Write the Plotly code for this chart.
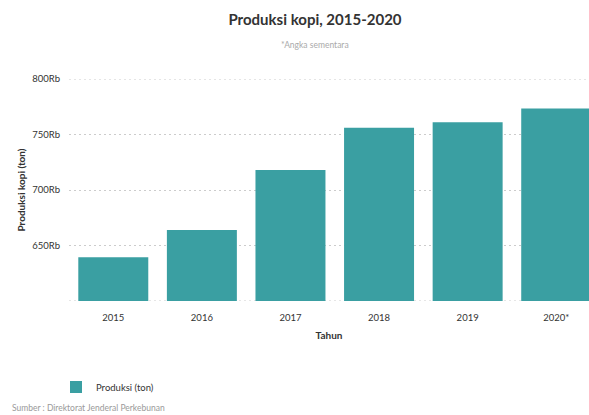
import plotly.graph_objects as go

years = ["2015", "2016", "2017", "2018", "2019", "2020*"]
production = [639305, 663871, 717962, 756051, 760963, 773409]
y_tick_vals = [600000, 650000, 700000, 750000, 800000]
y_tick_text = ["", "650Rb", "700Rb", "750Rb", "800Rb"]

TEAL = "#3a9fa2"
FONT = "Lato"
GRID = "#cccccc"

fig = go.Figure()
fig.add_trace(go.Bar(
    x=years, y=production, name="Produksi (ton)",
    marker=dict(color=TEAL, line=dict(width=0)),
    showlegend=True,
))

# edge gridlines (plotly omits grid lines at the exact range limits)
for yv in (y_tick_vals[0], y_tick_vals[-1]):
    fig.add_shape(type="line", xref="paper", yref="y", x0=0, x1=1,
                  y0=yv, y1=yv, layer="below",
                  line=dict(color=GRID, width=1, dash="2px,3px"))

fig.update_layout(
    width=589, height=415,
    margin=dict(l=69, r=0, t=79, b=114),
    paper_bgcolor="white", plot_bgcolor="white",
    font=dict(family=FONT, color="#333333", size=10),
    bargap=0.21,
    title=dict(text="<b>Produksi kopi, 2015-2020</b>", x=315/589, xanchor="center",
               y=1 - 20/415, yanchor="middle", xref="container", yref="container",
               font=dict(family=FONT, size=15, color="#333333")),
    xaxis=dict(
        range=[-0.5, 5.37],
        showgrid=False, showline=False, ticks="",
        tickfont=dict(size=9.5, color="#333333"),
        ticklabelstandoff=9,
        title=dict(text="<b>Tahun</b>", font=dict(size=10, color="#333333"), standoff=10),
    ),
    yaxis=dict(
        range=[600000, 800000],
        tickvals=y_tick_vals, ticktext=y_tick_text,
        showgrid=True, gridcolor=GRID, griddash="2px,3px", gridwidth=1,
        zeroline=False, showline=False, ticks="",
        tickfont=dict(size=9.5, color="#333333"),
        ticklabelstandoff=8,
        title=dict(text="<b>Produksi kopi (ton)</b>", font=dict(size=10, color="#333333"), standoff=4),
    ),
    legend=dict(
        xref="container", yref="container",
        x=56/589, y=(415-387)/415, xanchor="left", yanchor="middle",
        orientation="h", font=dict(size=9.5, color="#333333"),
        bgcolor="rgba(0,0,0,0)",
    ),
    annotations=[
        dict(text="*Angka sementara", xref="paper", yref="paper",
             x=(315-69)/520, y=(301-45)/222, xanchor="center", yanchor="middle",
             showarrow=False, font=dict(size=8.5, color="#aaaaaa")),
        dict(text="Sumber : Direktorat Jenderal Perkebunan", xref="paper", yref="paper",
             x=(10-69)/520, y=(301-408)/222, xanchor="left", yanchor="middle",
             showarrow=False, font=dict(size=8.5, color="#9a9a9a")),
    ],
)

fig.write_html("out.html", config={"displayModeBar": False},
               post_script="document.body.style.margin='0';document.body.style.overflow='hidden';")
